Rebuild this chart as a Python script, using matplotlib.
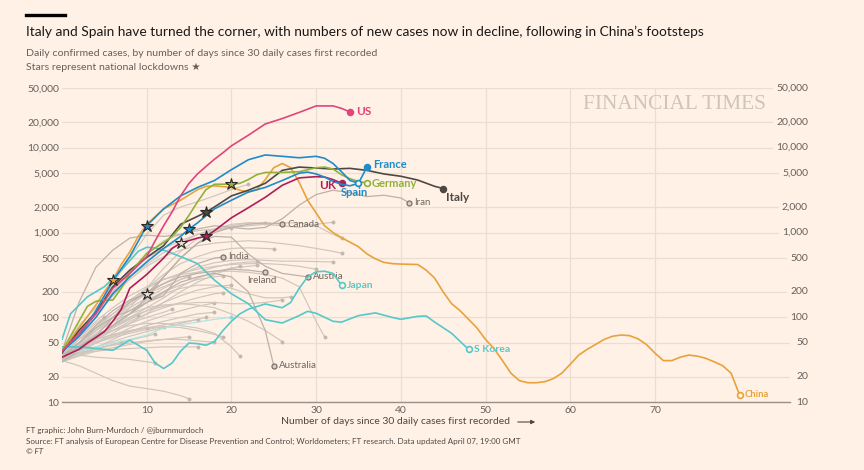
import matplotlib
matplotlib.use('Agg')
import matplotlib.pyplot as plt
from matplotlib.ticker import NullLocator
from matplotlib.transforms import blended_transform_factory
from matplotlib.lines import Line2D

plt.rcParams['font.family'] = ['Lato', 'DejaVu Sans']

BG = '#FFF1E5'
GRID = '#EADDD2'
TICK = '#66605C'
GREY = '#D0C6BD'
GREY_DARK = '#BCB2A9'

# ---- highlighted countries: day since 30 cases / daily cases ----
us_days = [0, 2, 4, 6, 8, 10, 11, 12, 13, 14, 15, 16, 17, 18, 19, 20, 22, 24, 26, 28, 30, 32, 33, 34]
us_cases = [40, 65, 110, 220, 330, 520, 800, 1200, 1750, 2700, 3800, 4900, 6000, 7300, 8700, 10500,
            14000, 19000, 22000, 26000, 31000, 31000, 29000, 26300]

spain_days = [0, 2, 4, 6, 8, 10, 12, 14, 16, 18, 20, 22, 24, 26, 28, 30, 31, 32, 33, 34, 35]
spain_cases = [40, 60, 120, 270, 520, 1200, 1900, 2700, 3400, 4100, 5500, 7200, 8200, 7900, 7600,
               7900, 7500, 6500, 5200, 4100, 3820]

france_days = [0, 2, 4, 6, 8, 10, 12, 14, 15, 16, 18, 20, 22, 24, 26, 28, 29, 30, 31, 32, 33, 34, 35, 36]
france_cases = [40, 60, 100, 190, 300, 450, 650, 900, 1100, 1300, 1900, 2400, 3000, 3400, 4100, 5000,
                5150, 4900, 4500, 4000, 3700, 3550, 3800, 5900]

italy_days = [0, 2, 4, 6, 8, 10, 12, 14, 16, 17, 18, 20, 22, 24, 26, 28, 30, 32, 34, 36, 38, 40, 42, 44, 45]
italy_cases = [38, 70, 115, 230, 360, 510, 700, 1250, 1550, 1740, 2000, 2700, 3150, 3800, 5400, 5900,
               5750, 5600, 5700, 5400, 4900, 4600, 4150, 3500, 3300]

germany_days = [0, 2, 3, 4, 5, 6, 7, 8, 10, 12, 13, 14, 15, 16, 17, 18, 20, 21, 22, 23, 24, 26, 28, 30,
                31, 32, 33, 34, 35, 36]
germany_cases = [40, 90, 135, 155, 160, 160, 220, 330, 570, 760, 900, 1150, 1600, 2300, 3200, 3700, 3720,
                 3800, 4200, 4800, 5100, 5100, 5200, 5800, 5900, 5600, 4800, 4300, 4000, 3820]

uk_days = [0, 2, 3, 4, 5, 6, 7, 8, 10, 12, 13, 14, 16, 17, 18, 20, 22, 24, 26, 28, 30, 31, 32, 33]
uk_cases = [34, 42, 50, 58, 68, 90, 125, 220, 320, 500, 650, 750, 860, 900, 1050, 1490, 1960, 2600, 3600,
            4400, 4550, 4500, 4200, 3820]

china_days = [0, 2, 4, 5, 6, 7, 8, 9, 10, 12, 14, 16, 17, 18, 20, 21, 22, 23, 24, 25, 26, 27, 28, 29, 30,
              31, 32, 33, 34, 35, 36, 37, 38, 39, 40, 42, 43, 44, 45, 46, 47, 48, 49, 50, 51, 52, 53, 54,
              55, 56, 57, 58, 59, 60, 61, 62, 63, 64, 65, 66, 67, 68, 69, 70, 71, 72, 73, 74, 75, 76, 77,
              78, 79, 80]
china_cases = [40, 75, 140, 200, 275, 420, 590, 900, 1250, 1900, 2400, 3200, 3500, 3550, 3400, 3150, 3000,
               3200, 4200, 5800, 6500, 5800, 3900, 2400, 1700, 1200, 1000, 870, 770, 680, 560, 490, 445,
               430, 425, 420, 360, 290, 200, 145, 120, 95, 75, 55, 43, 31, 22, 18, 17, 17, 17.5, 19, 22,
               28, 36, 42, 48, 55, 60, 62, 61, 56, 48, 38, 31, 31, 34, 36, 35, 33, 30, 27, 22, 12.2]

japan_days = [0, 2, 4, 6, 8, 10, 11, 12, 13, 14, 15, 16, 17, 18, 19, 20, 21, 22, 24, 26, 27, 28, 29, 30,
              31, 32, 33]
japan_cases = [45, 45, 43, 41, 54, 41, 29, 25, 29, 40, 50, 49, 47, 52, 70, 90, 110, 125, 144, 130, 150,
               220, 300, 345, 350, 330, 240]

skorea_days = [0, 1, 3, 5, 7, 9, 10, 11, 12, 14, 16, 18, 20, 22, 24, 26, 28, 29, 30, 32, 33, 35, 37, 39,
               40, 42, 43, 44, 46, 48]
skorea_cases = [55, 110, 175, 230, 360, 600, 670, 660, 620, 520, 430, 275, 190, 145, 94, 86, 105, 118,
                112, 90, 88, 105, 113, 100, 95, 103, 104, 88, 65, 42]

# ---- grey countries, values every 2 days up to the last day ----
iran_end, iran_cases = 41, [40, 150, 390, 620, 860, 930, 900, 950, 1100, 1200, 1150, 1100, 1150, 1450,
                            2100, 2800, 3150, 2950, 2650, 2750, 2550, 2240]
canada_end, canada_cases = 26, [32, 45, 60, 80, 110, 170, 300, 500, 750, 1000, 1150, 1250, 1300, 1260]
india_end, india_cases = 19, [35, 50, 75, 100, 120, 150, 180, 330, 430, 500, 515]
ireland_end, ireland_cases = 24, [30, 40, 60, 100, 150, 200, 250, 300, 330, 350, 370, 360, 340]
austria_end, austria_cases = 29, [35, 50, 80, 120, 160, 190, 300, 500, 750, 900, 880, 560, 400, 330,
                                  310, 300]
australia_end, australia_cases = 25, [35, 45, 60, 80, 110, 150, 200, 260, 300, 330, 300, 200, 70, 27]

other_end = [20, 24, 25, 23, 23, 21, 20, 19, 19, 18, 17, 18, 16, 15, 13, 12, 11, 10, 9, 7, 5, 4,
             11, 15, 16, 18, 19, 21, 26, 26, 27, 31, 30, 32, 33, 22, 32, 33, 15]
other_cases = [
    [35, 60, 110, 200, 350, 550, 800, 950, 1050, 1100, 1130],
    [30, 40, 55, 80, 130, 220, 380, 600, 850, 1050, 1200, 1300, 1290],
    [35, 50, 70, 100, 150, 220, 320, 430, 520, 600, 650, 660, 650, 640],
    [40, 55, 75, 100, 130, 170, 220, 280, 340, 390, 430, 450, 450],
    [35, 45, 60, 80, 100, 130, 170, 230, 290, 340, 380, 400, 410],
    [30, 38, 50, 65, 85, 110, 150, 200, 260, 320, 380, 400],
    [35, 45, 60, 75, 95, 120, 150, 180, 210, 230, 240],
    [30, 45, 65, 90, 120, 160, 200, 240, 280, 300, 310],
    [35, 42, 55, 70, 90, 110, 130, 150, 170, 190, 195],
    [32, 40, 50, 60, 75, 90, 105, 120, 135, 148],
    [35, 40, 45, 52, 60, 68, 76, 85, 95, 100],
    [30, 36, 44, 55, 68, 80, 90, 100, 110, 115],
    [38, 44, 52, 60, 68, 75, 82, 88, 94],
    [35, 55, 80, 110, 150, 190, 230, 280, 300],
    [33, 42, 55, 70, 85, 100, 115, 125],
    [35, 42, 50, 58, 65, 72, 78],
    [30, 36, 42, 48, 54, 60, 64],
    [40, 48, 56, 62, 70, 76],
    [35, 48, 62, 78, 95, 107],
    [33, 38, 43, 48, 51],
    [40, 58, 85, 100],
    [35, 45, 60],
    [38, 36, 34, 33, 32, 30, 29],
    [30, 35, 40, 44, 48, 52, 55, 58, 59],
    [35, 38, 40, 42, 43, 44, 45, 45, 45],
    [32, 38, 43, 47, 50, 53, 55, 55, 53, 51],
    [35, 45, 55, 63, 70, 75, 78, 76, 70, 63, 59],
    [40, 50, 60, 70, 80, 85, 85, 80, 75, 65, 45, 35],
    [35, 50, 70, 90, 110, 130, 140, 145, 140, 130, 110, 90, 70, 52],
    [30, 40, 55, 75, 100, 120, 135, 145, 150, 150, 145, 145, 150, 160],
    [35, 45, 60, 80, 110, 150, 190, 220, 240, 240, 220, 190, 170, 170, 175],
    [40, 60, 90, 130, 180, 230, 280, 320, 340, 350, 350, 340, 320, 290, 230, 90, 59],
    [35, 50, 75, 110, 160, 220, 280, 330, 370, 400, 420, 430, 430, 420, 400, 370],
    [30, 45, 70, 100, 140, 190, 250, 320, 390, 440, 470, 480, 470, 460, 460, 455, 450],
    [40, 65, 110, 180, 280, 400, 520, 620, 700, 750, 780, 800, 780, 740, 700, 650, 600, 570],
    [35, 60, 120, 250, 500, 950, 1600, 2000, 2300, 2700, 3200, 3700],
    [40, 80, 130, 200, 330, 500, 650, 800, 950, 1050, 1150, 1200, 1250, 1200, 1150, 1250, 1320],
    [35, 60, 110, 180, 300, 420, 580, 750, 950, 1100, 1250, 1300, 1250, 1300, 1300, 1200, 950, 860],
    [31, 27, 22, 18, 15.5, 14.5, 13.5, 12, 11],
]
faint_end, faint_cases = 20, [35, 40, 45, 50, 55, 62, 75, 82, 88, 95, 100]

yticks = [10, 20, 50, 100, 200, 500, 1000, 2000, 5000, 10000, 20000, 50000]
xticks = [10, 20, 30, 40, 50, 60, 70]


def every2(end):
    return list(range(0, end, 2)) + [end]


fig = plt.figure(figsize=(8.64, 4.70), dpi=100, facecolor=BG)
ax = fig.add_axes([62 / 864, 1 - 402.3 / 470, 728 / 864, 314 / 470])
ax.set_facecolor(BG)
ax.set_yscale('log')
ax.set_xlim(0, 85.95)
ax.set_ylim(10, 50000)

ax.set_yticks(yticks)
ax.set_yticklabels([f'{v:,}' for v in yticks])
ax.yaxis.set_minor_locator(NullLocator())
ax.set_xticks(xticks)
ax.grid(True, color=GRID, lw=0.9, zorder=0)
ax.set_axisbelow(True)
ax.tick_params(axis='both', length=0, labelsize=7.5, labelcolor=TICK)
ax.tick_params(axis='y', pad=2)
ax.tick_params(axis='x', pad=3)
for s in ['top', 'left', 'right']:
    ax.spines[s].set_visible(False)
ax.spines['bottom'].set_color('#9A9088')
ax.spines['bottom'].set_linewidth(1.0)

# right-hand labels
trans = blended_transform_factory(ax.transAxes, ax.transData)
for v in yticks:
    ax.text(1.0247, v, f'{v:,}', transform=trans, ha='right', va='center', fontsize=7.5,
            color=TICK, zorder=5, bbox=dict(fc=BG, ec='none', pad=2.0))

# grey spaghetti
for end, vals in zip(other_end, other_cases):
    d = every2(end)
    ax.plot(d, vals, color=GREY, lw=0.85, zorder=2)
    ax.plot(d[-1], vals[-1], 'o', ms=2.8, color='#C2B8AF', mec='none', zorder=2)

labelled = [
    ('Iran', iran_end, iran_cases, (3.6, 0), 'left'),
    ('Canada', canada_end, canada_cases, (3.6, 0), 'left'),
    ('India', india_end, india_cases, (3.6, 0), 'left'),
    ('Ireland', ireland_end, ireland_cases, (-2.2, -5.8), 'center'),
    ('Austria', austria_end, austria_cases, (3.6, 0), 'left'),
    ('Australia', australia_end, australia_cases, (3.6, 0), 'left'),
]
for name, end, vals, off, ha in labelled:
    d = every2(end)
    ax.plot(d, vals, color=GREY_DARK, lw=0.9, zorder=3)
    ax.plot(d[-1], vals[-1], 'o', ms=3.6, mfc='#D8CEC5', mec='#7A716A', mew=0.9, zorder=4)
    ax.annotate(name, (d[-1], vals[-1]), xytext=off, textcoords='offset points', ha=ha,
                va='center', fontsize=7, color='#6E6660', zorder=6)

ax.plot(every2(faint_end), faint_cases, color='#B2E4E2', lw=0.9, zorder=3)
ax.plot(faint_end, faint_cases[-1], 'o', ms=2.8, color='#8FD8D6', mec='none', zorder=3)

highlight = [
    ('China', china_days, china_cases, '#E9A23B', True),
    ('S Korea', skorea_days, skorea_cases, '#55C8CA', True),
    ('Japan', japan_days, japan_cases, '#55C8CA', True),
    ('Italy', italy_days, italy_cases, '#4E4845', False),
    ('Germany', germany_days, germany_cases, '#8FB23A', True),
    ('UK', uk_days, uk_cases, '#B01E5A', False),
    ('France', france_days, france_cases, '#1F8BC9', False),
    ('Spain', spain_days, spain_cases, '#1F8BC9', True),
    ('US', us_days, us_cases, '#E0457B', False),
]
label_style = {
    'China': ((3.6, 0), 'left', 6.8),
    'S Korea': ((3.6, 0), 'left', 7.5),
    'Japan': ((3.6, 0), 'left', 7.5),
    'Italy': ((2.2, -6.5), 'left', 8.5),
    'Germany': ((3.6, 0), 'left', 8),
    'UK': ((-3.6, -1.4), 'right', 8.5),
    'France': ((4.3, 2.2), 'left', 8),
    'Spain': ((-2.9, -6.5), 'center', 8),
    'US': ((4.3, 0), 'left', 8.5),
}
z = 10
for name, d, vals, col, hollow in highlight:
    ax.plot(d, vals, color=col, lw=1.2, zorder=z, solid_joinstyle='round')
    ax.plot(d[-1], vals[-1], 'o', ms=4.2, mfc=BG if hollow else col, mec=col, mew=1.2, zorder=z + 0.5)
    off, ha, fs = label_style[name]
    ax.annotate(name, (d[-1], vals[-1]), xytext=off, textcoords='offset points', ha=ha, va='center',
                fontsize=fs, fontweight='bold', color=col, zorder=30)
    z += 1

# lockdown stars
stars = [
    (china_days, china_cases, 6, '#E9A23B'),
    (spain_days, spain_cases, 10, '#1F8BC9'),
    (france_days, france_cases, 15, '#1F8BC9'),
    (italy_days, italy_cases, 17, '#4E4845'),
    (uk_days, uk_cases, 17, '#B01E5A'),
    (germany_days, germany_cases, 20, '#8FB23A'),
    (every2(austria_end), austria_cases, 10, '#E6DCD2'),
    (every2(other_end[37]), other_cases[37], 14, '#E6DCD2'),
]
for d, vals, day, col in stars:
    ax.plot(day, vals[d.index(day)], '*', ms=9, mfc=col, mec='#2B2724', mew=0.8, zorder=40)

# watermark
fig.text(766 / 864, 1 - 105 / 470, 'FINANCIAL TIMES', family='Liberation Serif', fontsize=15.4,
         color='#CEC4BB', ha='right', va='center')

# titles
fig.add_artist(Line2D([26 / 864, 65 / 864], [1 - 15 / 470] * 2, color='black', lw=2.4))
fig.text(26 / 864, 1 - 32 / 470,
         'Italy and Spain have turned the corner, with numbers of new cases now in decline, '
         'following in China\u2019s footsteps', fontsize=9.9, color='#1A1817', va='center')
fig.text(26 / 864, 1 - 54 / 470,
         'Daily confirmed cases, by number of days since 30 daily cases first recorded',
         fontsize=7.55, color=TICK, va='center')
fig.text(26 / 864, 1 - 67 / 470, 'Stars represent national lockdowns \u2605',
         fontsize=7.55, color=TICK, va='center')

# x axis label with arrow
fig.text(510 / 864, 1 - 422 / 470, 'Number of days since 30 daily cases first recorded',
         fontsize=7.5, color='#4D4845', ha='right', va='center')
ax.annotate('', xy=(538, 470 - 422), xytext=(515, 470 - 422), xycoords='figure pixels',
            textcoords='figure pixels',
            arrowprops=dict(arrowstyle='-|>', color='#4D4845', lw=0.8, mutation_scale=6))

# footer
fig.text(26 / 864, 1 - 430 / 470, 'FT graphic: John Burn-Murdoch / @jburnmurdoch',
         fontsize=5.75, color='#4D4845', va='center')
fig.text(26 / 864, 1 - 441 / 470,
         'Source: FT analysis of European Centre for Disease Prevention and Control; Worldometers; '
         'FT research. Data updated April 07, 19:00 GMT', fontsize=5.75, color='#4D4845', va='center')
fig.text(26 / 864, 1 - 451 / 470, '\u00a9 FT', fontsize=5.75, color='#4D4845', va='center',
         style='italic')

fig.savefig('out.png', dpi=100, facecolor=BG)
